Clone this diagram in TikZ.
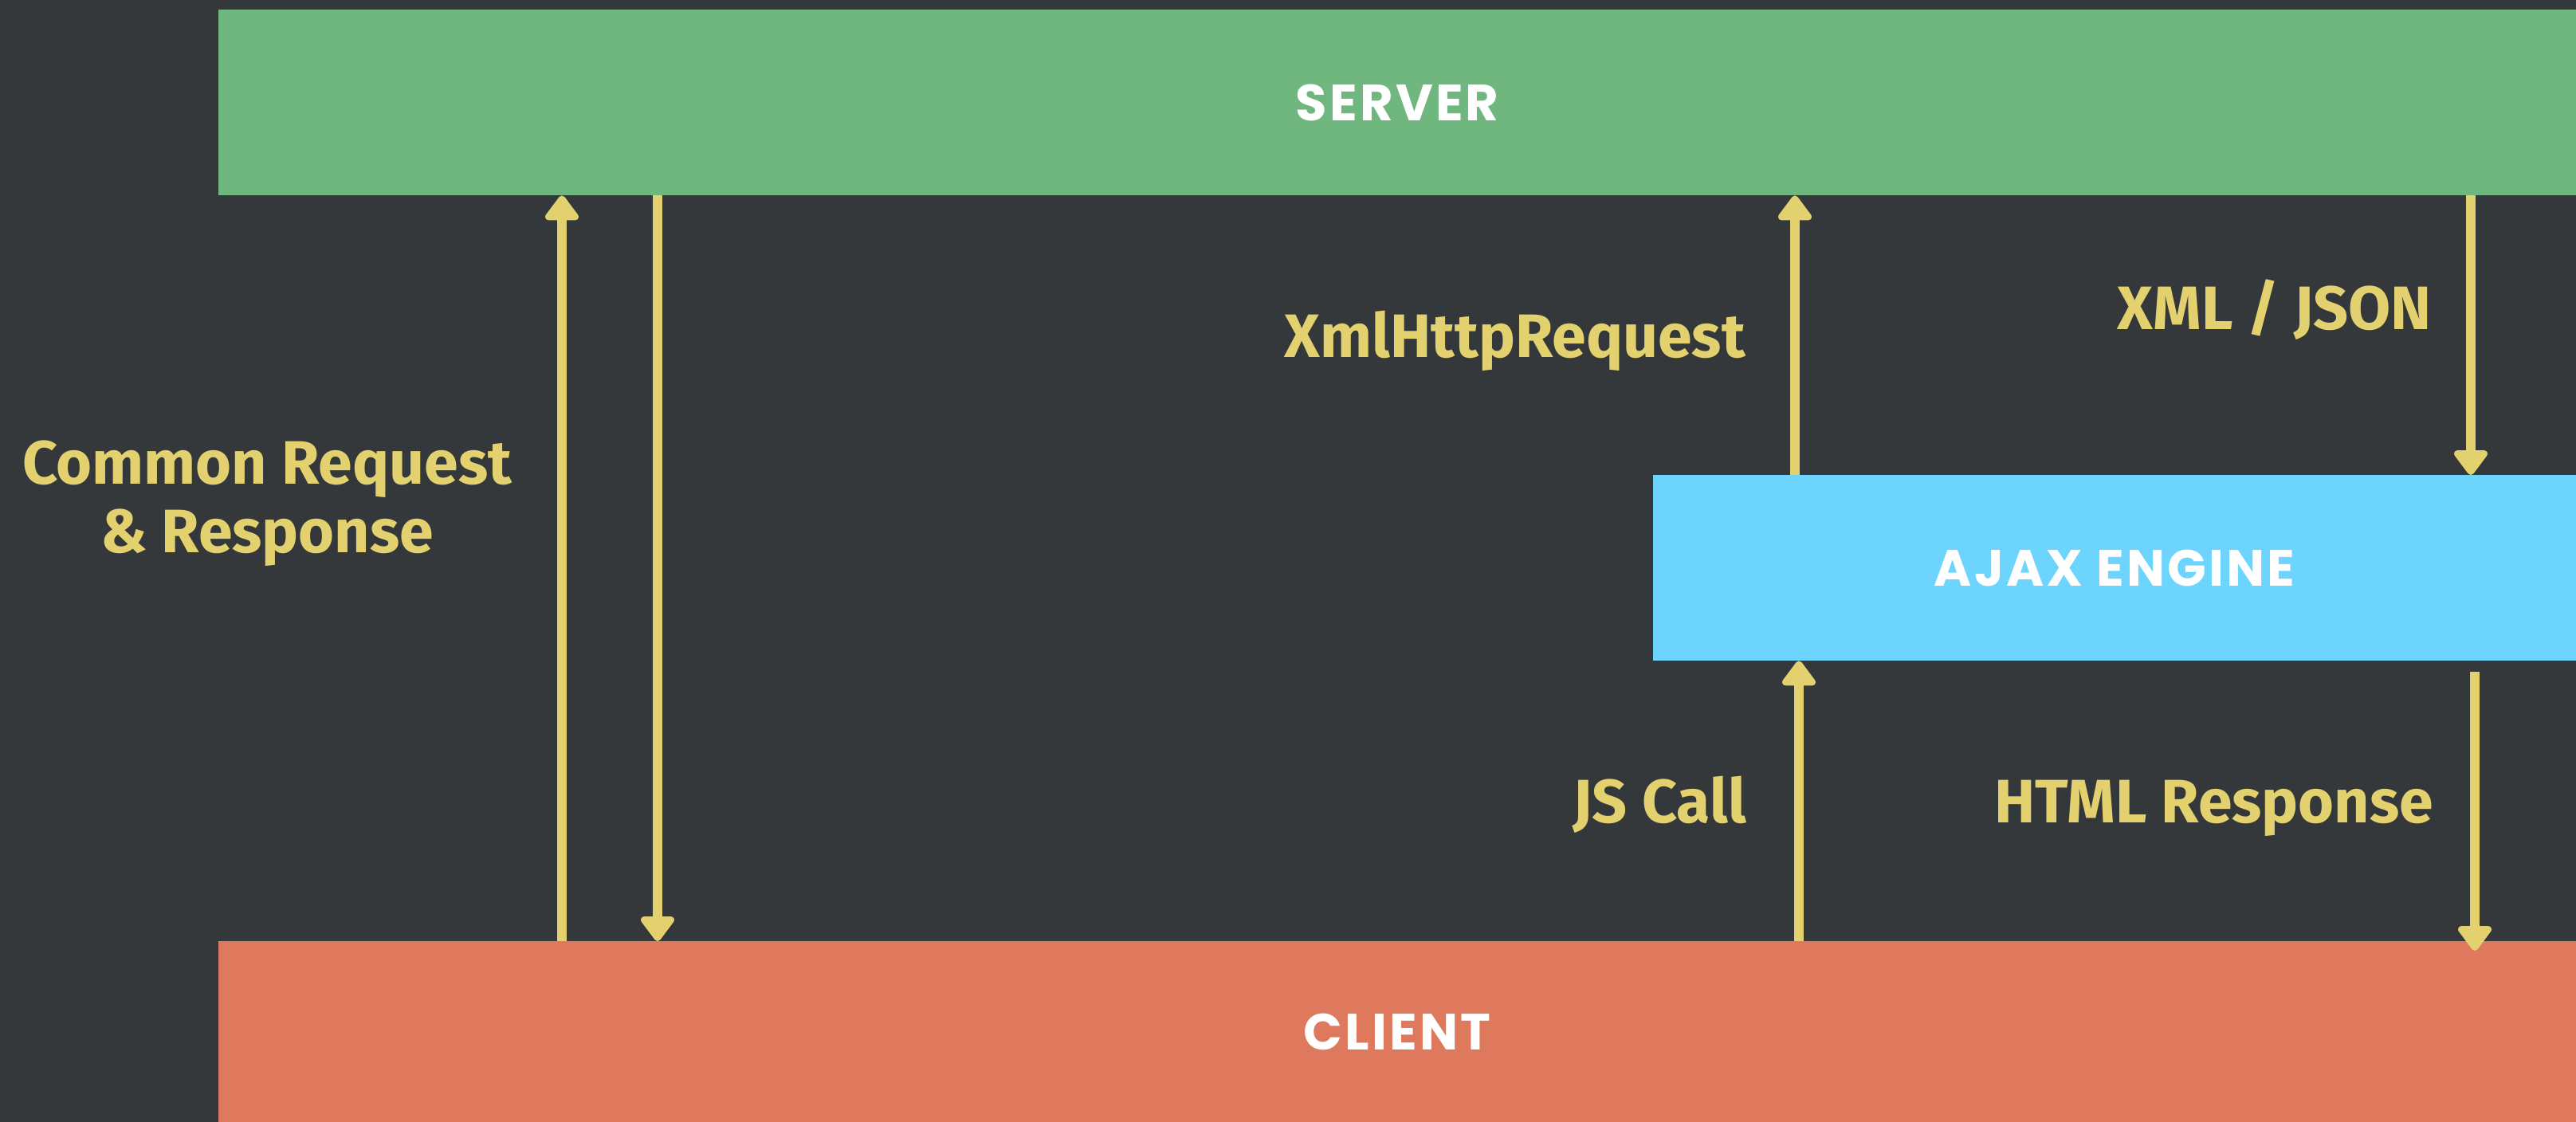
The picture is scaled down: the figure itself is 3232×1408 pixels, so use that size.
\documentclass[tikz,border=0pt]{standalone}
\usepackage{fontspec}
\usetikzlibrary{arrows.meta}
\newfontfamily\lblfont{Fira Sans}
\newfontfamily\boxfont{Poppins}[LetterSpace=5]
\definecolor{bgc}{RGB}{53,56,59}
\definecolor{srvc}{RGB}{111,183,126}
\definecolor{clic}{RGB}{223,121,94}
\definecolor{ajxc}{RGB}{109,212,254}
\definecolor{arrc}{RGB}{226,209,110}
\tikzset{
  layer/.style={fill=#1, draw=none, inner sep=0pt, font=\boxfont\bfseries\fontsize{64}{70}\selectfont, text=white},
  flow/.style={draw=arrc, line width=12pt, -{Triangle[length=34pt,width=48pt,round]}},
  lbl/.style={text=arrc, inner sep=0pt, font=\lblfont\bfseries\fontsize{77}{86}\selectfont}
}
\begin{document}
\begin{tikzpicture}[x=1pt,y=-1pt]
\fill[bgc] (0,0) rectangle (3232,1408);
\useasboundingbox (0,0) rectangle (3232,1408);
% boxes
\node[layer=srvc, minimum width=2958pt, minimum height=233pt, anchor=north west] (server) at (274,12) {SERVER};
\node[layer=clic, minimum width=2958pt, minimum height=227pt, anchor=north west] (client) at (274,1181) {CLIENT};
\node[layer=ajxc, minimum width=1158pt, minimum height=233pt, anchor=north west] (ajax) at (2074,596) {AJAX ENGINE};
% x positions
\coordinate (xa) at (705,0);
\coordinate (xb) at (825,0);
\coordinate (xc) at (2252,0);
\coordinate (xd) at (3100,0);
\coordinate (xe) at (2257,0);
\coordinate (xf) at (3105,0);
\coordinate (fstart) at (3105,843);
\coordinate (fend) at (3105,1193);
% arrows
\draw[flow] (client.north -| xa) -- (server.south -| xa);
\draw[flow] (server.south -| xb) -- (client.north -| xb);
\draw[flow] (ajax.north -| xc) -- (server.south -| xc);
\draw[flow] (server.south -| xd) -- (ajax.north -| xd);
\draw[flow] (client.north -| xe) -- (ajax.south -| xe);
\draw[flow] (fstart) -- (fend);
% labels
\node[lbl, align=center, anchor=base] (common) at (335,693) {Common Request\\\& Response};
\node[lbl, anchor=base east] (xhr) at (2190,448) {XmlHttpRequest};
\node[lbl, anchor=base east] (xml) at (3051,413) {XML / JSON};
\node[lbl, anchor=base east] (js) at (2191,1032) {JS Call};
\node[lbl, anchor=base east] (html) at (3053,1032) {HTML Response};
\end{tikzpicture}
\end{document}
